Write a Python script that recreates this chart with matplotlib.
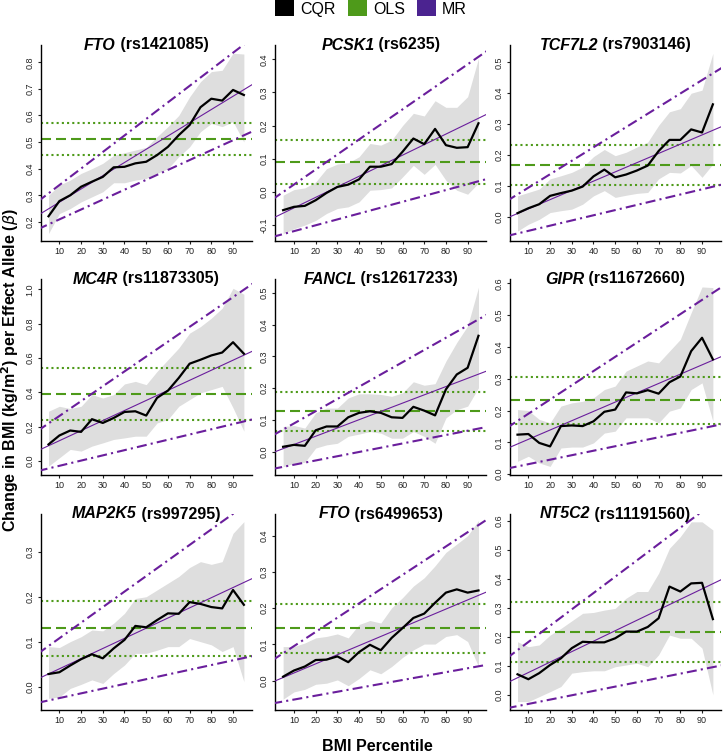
import matplotlib
matplotlib.use("Agg")
import matplotlib.pyplot as plt
from matplotlib.patches import Patch
from matplotlib.ticker import MultipleLocator, FormatStrFormatter

plt.rcParams['font.family'] = ['Liberation Sans', 'DejaVu Sans']

# BMI percentiles at which CQR was estimated
pct = [5, 10, 15, 20, 25, 30, 35, 40, 45, 50, 55, 60, 65, 70, 75, 80, 85, 90, 95]

genes = ["FTO", "PCSK1", "TCF7L2", "MC4R", "FANCL", "GIPR", "MAP2K5", "FTO", "NT5C2"]
rsids = ["rs1421085", "rs6235", "rs7903146", "rs11873305", "rs12617233",
         "rs11672660", "rs997295", "rs6499653", "rs11191560"]

# CQR estimate, lower and upper CI per panel
fto1_cqr = [0.221, 0.278, 0.300, 0.332, 0.351, 0.369, 0.405, 0.407, 0.420, 0.426,
            0.451, 0.482, 0.526, 0.564, 0.631, 0.663, 0.656, 0.696, 0.677]
fto1_lo = [0.156, 0.231, 0.250, 0.275, 0.294, 0.313, 0.347, 0.347, 0.357, 0.363,
           0.382, 0.400, 0.445, 0.482, 0.539, 0.570, 0.558, 0.577, 0.500]
fto1_hi = [0.300, 0.338, 0.357, 0.382, 0.400, 0.420, 0.450, 0.460, 0.470, 0.480,
           0.520, 0.558, 0.600, 0.670, 0.727, 0.765, 0.770, 0.834, 0.831]

pcsk1_cqr = [-0.055, -0.045, -0.042, -0.025, -0.003, 0.015, 0.022, 0.038, 0.076, 0.076,
             0.084, 0.121, 0.161, 0.144, 0.190, 0.141, 0.133, 0.135, 0.207]
pcsk1_lo = [-0.126, -0.111, -0.100, -0.086, -0.065, -0.050, -0.045, -0.030, 0.005, 0.007,
            0.012, 0.045, 0.080, 0.053, 0.083, 0.035, 0.005, -0.007, 0.027]
pcsk1_hi = [-0.010, 0.007, 0.012, 0.030, 0.070, 0.084, 0.088, 0.106, 0.146, 0.141,
            0.156, 0.200, 0.237, 0.229, 0.275, 0.255, 0.255, 0.287, 0.403]

tcf_cqr = [0.012, 0.028, 0.041, 0.068, 0.077, 0.085, 0.098, 0.131, 0.153, 0.128,
           0.137, 0.150, 0.166, 0.213, 0.249, 0.249, 0.283, 0.273, 0.364]
tcf_lo = [-0.046, -0.024, -0.008, 0.014, 0.020, 0.025, 0.041, 0.068, 0.085, 0.063,
          0.070, 0.076, 0.079, 0.123, 0.144, 0.142, 0.166, 0.128, 0.171]
tcf_hi = [0.068, 0.079, 0.090, 0.123, 0.133, 0.144, 0.161, 0.195, 0.218, 0.198,
          0.209, 0.226, 0.242, 0.296, 0.340, 0.350, 0.400, 0.410, 0.529]

mc4r_cqr = [0.097, 0.149, 0.178, 0.170, 0.244, 0.222, 0.251, 0.286, 0.290, 0.265,
            0.368, 0.410, 0.484, 0.567, 0.590, 0.615, 0.632, 0.692, 0.625]
mc4r_lo = [-0.029, 0.019, 0.068, 0.058, 0.087, 0.106, 0.126, 0.135, 0.145, 0.145,
           0.222, 0.242, 0.319, 0.358, 0.397, 0.416, 0.435, 0.310, 0.174]
mc4r_hi = [0.290, 0.319, 0.306, 0.319, 0.387, 0.367, 0.387, 0.449, 0.464, 0.445,
           0.522, 0.590, 0.658, 0.745, 0.783, 0.832, 0.890, 1.006, 0.971]

fancl_cqr = [0.015, 0.021, 0.018, 0.067, 0.079, 0.079, 0.108, 0.122, 0.127, 0.122,
             0.108, 0.106, 0.141, 0.129, 0.114, 0.196, 0.243, 0.264, 0.365]
fancl_lo = [-0.048, -0.037, -0.034, 0.011, 0.021, 0.026, 0.048, 0.055, 0.063, 0.058,
            0.042, 0.042, 0.063, 0.048, 0.026, 0.106, 0.132, 0.143, 0.201]
fancl_hi = [0.079, 0.082, 0.074, 0.122, 0.137, 0.137, 0.169, 0.182, 0.182, 0.180,
            0.174, 0.185, 0.220, 0.209, 0.214, 0.285, 0.344, 0.396, 0.518]

gipr_cqr = [0.124, 0.126, 0.098, 0.087, 0.151, 0.153, 0.151, 0.166, 0.196, 0.203,
            0.257, 0.254, 0.264, 0.253, 0.289, 0.307, 0.387, 0.429, 0.361]
gipr_lo = [0.040, 0.056, 0.035, 0.024, 0.082, 0.085, 0.085, 0.098, 0.129, 0.135,
           0.177, 0.177, 0.177, 0.161, 0.198, 0.208, 0.266, 0.287, 0.166]
gipr_hi = [0.203, 0.200, 0.172, 0.161, 0.214, 0.224, 0.229, 0.240, 0.266, 0.277,
           0.324, 0.340, 0.356, 0.350, 0.387, 0.424, 0.508, 0.589, 0.587]

map2k5_cqr = [0.029, 0.033, 0.048, 0.062, 0.073, 0.064, 0.086, 0.105, 0.136, 0.133,
              0.149, 0.164, 0.163, 0.189, 0.185, 0.178, 0.175, 0.216, 0.183]
map2k5_lo = [-0.025, -0.022, -0.003, 0.006, 0.016, 0.008, 0.030, 0.049, 0.075, 0.075,
             0.082, 0.090, 0.090, 0.108, 0.101, 0.094, 0.079, 0.090, 0.012]
map2k5_hi = [0.090, 0.088, 0.101, 0.112, 0.127, 0.125, 0.142, 0.164, 0.197, 0.201,
             0.216, 0.231, 0.246, 0.266, 0.279, 0.273, 0.279, 0.342, 0.368]

fto2_cqr = [0.011, 0.028, 0.039, 0.057, 0.058, 0.067, 0.051, 0.079, 0.099, 0.084,
            0.118, 0.145, 0.173, 0.185, 0.215, 0.243, 0.252, 0.243, 0.249]
fto2_lo = [-0.051, -0.031, -0.024, -0.010, -0.007, 0.002, -0.014, 0.006, 0.030, 0.019,
           0.039, 0.064, 0.085, 0.101, 0.101, 0.122, 0.127, 0.108, 0.039]
fto2_hi = [0.094, 0.094, 0.104, 0.118, 0.122, 0.129, 0.118, 0.155, 0.166, 0.159,
           0.201, 0.229, 0.261, 0.284, 0.317, 0.354, 0.377, 0.400, 0.442]

nt5c2_cqr = [0.071, 0.054, 0.075, 0.103, 0.126, 0.161, 0.183, 0.181, 0.181, 0.195,
             0.218, 0.218, 0.234, 0.264, 0.373, 0.356, 0.384, 0.386, 0.261]
nt5c2_lo = [-0.023, -0.023, -0.006, 0.011, 0.029, 0.075, 0.080, 0.083, 0.083, 0.097,
            0.103, 0.109, 0.097, 0.138, 0.206, 0.195, 0.195, 0.161, 0.000]
nt5c2_hi = [0.183, 0.166, 0.172, 0.206, 0.229, 0.255, 0.281, 0.284, 0.292, 0.298,
            0.333, 0.356, 0.356, 0.419, 0.505, 0.545, 0.596, 0.596, 0.568]

# OLS estimate with CI
ols_est = [0.511, 0.090, 0.169, 0.393, 0.127, 0.234, 0.131, 0.144, 0.218]
ols_lo = [0.451, 0.024, 0.104, 0.238, 0.066, 0.159, 0.070, 0.075, 0.115]
ols_hi = [0.572, 0.158, 0.234, 0.544, 0.189, 0.307, 0.192, 0.212, 0.321]

# MR lines: value at percentile 0 and percentile 100
mr_mid0 = [0.224, -0.080, -0.004, 0.060, -0.004, 0.080, 0.018, -0.004, 0.041]
mr_mid100 = [0.722, 0.238, 0.295, 0.646, 0.257, 0.373, 0.244, 0.248, 0.401]
mr_lo0 = [0.172, -0.136, -0.062, -0.058, -0.055, 0.017, -0.035, -0.063, -0.046]
mr_lo100 = [0.544, 0.041, 0.106, 0.246, 0.079, 0.158, 0.070, 0.045, 0.103]
mr_hi0 = [0.276, -0.023, 0.051, 0.176, 0.050, 0.145, 0.074, 0.056, 0.126]
mr_hi100 = [0.898, 0.430, 0.486, 1.041, 0.436, 0.593, 0.420, 0.449, 0.688]

cqr_all = [fto1_cqr, pcsk1_cqr, tcf_cqr, mc4r_cqr, fancl_cqr, gipr_cqr,
           map2k5_cqr, fto2_cqr, nt5c2_cqr]
lo_all = [fto1_lo, pcsk1_lo, tcf_lo, mc4r_lo, fancl_lo, gipr_lo,
          map2k5_lo, fto2_lo, nt5c2_lo]
hi_all = [fto1_hi, pcsk1_hi, tcf_hi, mc4r_hi, fancl_hi, gipr_hi,
          map2k5_hi, fto2_hi, nt5c2_hi]

# axis settings
ylims = [(0.128, 0.865), (-0.148, 0.443), (-0.078, 0.556), (-0.081, 1.06),
         (-0.074, 0.544), (-0.003, 0.614), (-0.051, 0.385), (-0.081, 0.46),
         (-0.052, 0.623)]
ysteps = [0.1, 0.1, 0.1, 0.2, 0.1, 0.1, 0.1, 0.1, 0.1]

GREEN = "#4E9A1A"
PURPLE = "#4B2390"
PURPLE_LN = "#6A1E9C"
BAND = "#DEDEDE"

W, H = 725, 753
fig = plt.figure(figsize=(W / 100, H / 100), dpi=100)

lefts = [40.7, 275.3, 509.7]
tops = [45, 279, 514]
aw, ah = 211, 196

axes = []
for i in range(9):
    r, c = divmod(i, 3)
    ax = fig.add_axes([lefts[c] / W, 1 - (tops[r] + ah) / H, aw / W, ah / H])
    axes.append(ax)

    ax.fill_between(pct, lo_all[i], hi_all[i], color=BAND, lw=0, zorder=1)

    ax.axhline(ols_est[i], color=GREEN, lw=1.5, dashes=(4.8, 2.4), zorder=2)
    ax.axhline(ols_lo[i], color=GREEN, lw=1.5, dashes=(1, 1.5), zorder=2)
    ax.axhline(ols_hi[i], color=GREEN, lw=1.5, dashes=(1, 1.5), zorder=2)

    ax.plot([0, 100], [mr_mid0[i], mr_mid100[i]], color=PURPLE_LN, lw=0.8, zorder=3)
    ax.plot([0, 100], [mr_lo0[i], mr_lo100[i]], color=PURPLE_LN, lw=1.5,
            dashes=(4.8, 2, 1, 2), zorder=3)
    ax.plot([0, 100], [mr_hi0[i], mr_hi100[i]], color=PURPLE_LN, lw=1.5,
            dashes=(4.8, 2, 1, 2), zorder=3)

    ax.plot(pct, cqr_all[i], color="black", lw=1.6, zorder=4)

    ax.set_xlim(1.4, 98.6)
    ax.set_ylim(*ylims[i])
    ax.set_xticks(range(10, 100, 10))
    ax.yaxis.set_major_locator(MultipleLocator(ysteps[i]))
    ax.yaxis.set_major_formatter(FormatStrFormatter('%.1f'))
    for s in ['top', 'right']:
        ax.spines[s].set_visible(False)
    for s in ['left', 'bottom']:
        ax.spines[s].set_linewidth(1.0)
    ax.tick_params(labelsize=6.5, length=2.5, width=0.8, pad=2, colors='#222222')
    for lab in ax.get_yticklabels():
        lab.set_rotation(90)
        lab.set_va('center')

# titles: italic gene name followed by the rsid
fig.canvas.draw()
renderer = fig.canvas.get_renderer()
for i, ax in enumerate(axes):
    t1 = ax.text(0, 1.0, genes[i], transform=ax.transAxes, ha='left', va='center',
                 fontsize=11.5, fontweight='bold', fontstyle='italic')
    t2 = ax.text(0, 1.0, " (" + rsids[i] + ")", transform=ax.transAxes, ha='left',
                 va='center', fontsize=11.5, fontweight='bold')
    w1 = t1.get_window_extent(renderer).width
    w2 = t2.get_window_extent(renderer).width
    axw = ax.get_window_extent(renderer).width
    start = 0.5 - (w1 + w2) / 2 / axw
    t1.set_x(start)
    t2.set_x(start + w1 / axw)

handles = [Patch(facecolor="black", edgecolor="none", label="CQR"),
           Patch(facecolor=GREEN, edgecolor="none", label="OLS"),
           Patch(facecolor=PURPLE, edgecolor="none", label="MR")]
fig.legend(handles=handles, loc='upper center', bbox_to_anchor=(371 / W, 1.0),
           ncol=3, frameon=False, fontsize=11.5, handlelength=1.19,
           handleheight=1.19, handletextpad=0.38, columnspacing=0.75,
           borderpad=0, borderaxespad=0)

fig.text(10 / W, 1 - 370 / H,
         r"Change in BMI (kg/m$^\mathbf{2}$) per Effect Allele ($\beta$)",
         rotation=90, ha='center', va='center', fontsize=11.5, fontweight='bold')
fig.text(377 / W, 2 / H, "BMI Percentile", ha='center', va='baseline',
         fontsize=11.5, fontweight='bold')

fig.savefig("out.png", dpi=100)
